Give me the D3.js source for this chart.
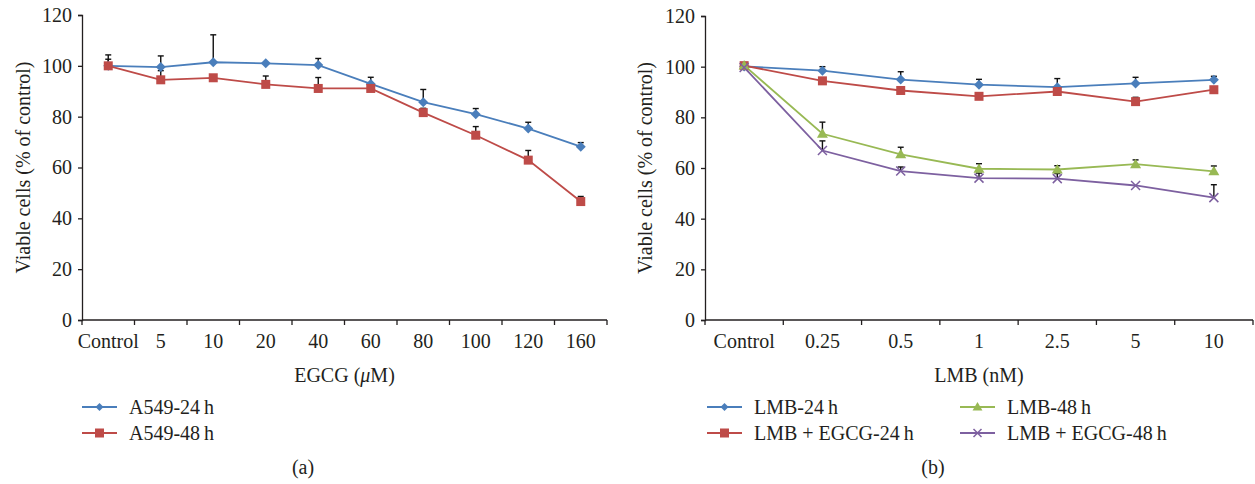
<!DOCTYPE html>
<html><head><meta charset="utf-8">
<script src="https://cdn.jsdelivr.net/npm/d3@7"></script>
<style>
body{margin:0;background:#fff;}
svg text{font-family:"Liberation Serif","Times New Roman",serif;fill:#231f20;}
</style></head>
<body><svg id="c" width="1255" height="484"></svg>
<script>
// ---- data ----
const leftCategories = ["Control","5","10","20","40","60","80","100","120","160"];
const a549_24 = [100, 99.5, 101.4, 101, 100.3, 92.9, 85.7, 81, 75.3, 68.2];
const a549_24_err = [4.3, 4.4, 10.8, 0.4, 2.6, 2.6, 5.0, 2.2, 2.5, 1.6];
const a549_48 = [100, 94.5, 95.3, 92.7, 91.1, 91.1, 81.6, 72.7, 62.9, 46.6];
const a549_48_err = [2.6, 3.6, 0.4, 3.3, 4.3, 1.0, 1.7, 3.4, 3.8, 2.0];

const rightCategories = ["Control","0.25","0.5","1","2.5","5","10"];
const lmb24 = [100.1, 98.4, 94.9, 92.9, 91.9, 93.4, 94.8];
const lmb24_err = [0.5, 1.6, 3.1, 2.1, 3.4, 2.4, 1.4];
const lmbEgcg24 = [100.4, 94.4, 90.6, 88.3, 90.2, 86.2, 90.9];
const lmbEgcg24_err = [0.5, 0.5, 0.5, 1.0, 1.0, 1.7, 1.0];
const lmb48 = [100.5, 73.5, 65.4, 59.7, 59.4, 61.5, 58.7];
const lmb48_err = [0.5, 4.6, 2.8, 2.0, 1.5, 1.7, 2.1];
const lmbEgcg48 = [99.7, 66.9, 58.8, 56.0, 55.8, 53.1, 48.3];
const lmbEgcg48_err = [0.5, 3.8, 1.6, 2.0, 2.0, 0.5, 5.1];

const yTicks = [0, 20, 40, 60, 80, 100, 120];

const C = {blue:"#4a7ebb", red:"#be4b48", green:"#98b954", purple:"#7d60a0"};

const svg = d3.select("#c");
const FS = 20;

function marker(g, type, color, x, y, s) {
  if (type === "diamond") {
    g.append("path").attr("d", `M${x},${y-s}L${x+s},${y}L${x},${y+s}L${x-s},${y}Z`).attr("fill", color);
  } else if (type === "square") {
    g.append("rect").attr("x", x-s).attr("y", y-s).attr("width", 2*s).attr("height", 2*s).attr("fill", color);
  } else if (type === "triangle") {
    g.append("path").attr("d", `M${x},${y-s*1.1}L${x+s*1.1},${y+s*0.8}L${x-s*1.1},${y+s*0.8}Z`).attr("fill", color);
  } else if (type === "x") {
    g.append("path").attr("d", `M${x-s},${y-s}L${x+s},${y+s}M${x-s},${y+s}L${x+s},${y-s}`).attr("stroke", color).attr("stroke-width", 1.5).attr("fill","none");
  }
}

function panel(opts) {
  const {x0, x1, yTop, yBot, cats, series, xTitle, yTitleX, label, labelX} = opts;
  const g = svg.append("g");
  const x = d3.scaleBand().domain(cats).range([x0, x1]);
  const y = d3.scaleLinear().domain([0, 120]).range([yBot, yTop]);

  // y axis
  const ya = d3.axisLeft(y).tickValues(yTicks).tickSize(4).tickPadding(6);
  const yg = g.append("g").attr("transform", `translate(${x0},0)`).call(ya);
  yg.select(".domain").attr("stroke", "#231f20").attr("stroke-width", 1.3);
  yg.selectAll(".tick line").attr("stroke", "#231f20").attr("stroke-width", 1.3);
  yg.selectAll("text").attr("font-size", FS).attr("fill", "#231f20").attr("font-family", "Liberation Serif");

  // x axis
  const xa = d3.axisBottom(x).tickSize(0).tickPadding(14);
  const xg = g.append("g").attr("transform", `translate(0,${yBot})`).call(xa);
  xg.select(".domain").attr("stroke", "#231f20").attr("stroke-width", 1.3).attr("d", `M${x0},0H${x1}`);
  xg.selectAll("text").attr("font-size", FS).attr("fill", "#231f20").attr("font-family", "Liberation Serif");
  // band boundary ticks
  const bounds = cats.map(c => x(c)).concat([x1]);
  g.selectAll(null).data(bounds).enter().append("line")
    .attr("x1", d => d).attr("x2", d => d).attr("y1", yBot).attr("y2", yBot + 5)
    .attr("stroke", "#231f20").attr("stroke-width", 1.3);

  const cx = c => x(c) + x.bandwidth()/2;

  // lines
  series.forEach(s => {
    const line = d3.line().x((d,i) => cx(cats[i])).y(d => y(d));
    g.append("path").attr("d", line(s.values)).attr("fill","none").attr("stroke", s.color).attr("stroke-width", 1.8);
  });
  // error bars
  series.forEach(s => {
    s.values.forEach((v,i) => {
      const e = s.err[i];
      if (e <= 0.6) return;
      const px = cx(cats[i]);
      g.append("line").attr("x1",px).attr("x2",px).attr("y1",y(v)).attr("y2",y(v+e)).attr("stroke","#111").attr("stroke-width",1.4);
      g.append("line").attr("x1",px-3).attr("x2",px+3).attr("y1",y(v+e)).attr("y2",y(v+e)).attr("stroke","#111").attr("stroke-width",1.4);
    });
  });
  // markers
  series.forEach(s => {
    s.values.forEach((v,i) => marker(g, s.marker, s.color, cx(cats[i]), y(v), s.size));
  });

  // y title
  g.append("text").attr("transform", `translate(${yTitleX},${(yTop+yBot)/2}) rotate(-90)`)
    .attr("text-anchor","middle").attr("dominant-baseline","central").attr("font-size", FS).text("Viable cells (% of control)");
  // x title
  const xt = g.append("text").attr("x", (x0+x1)/2).attr("y", 382).attr("text-anchor","middle").attr("font-size", FS);
  xTitle(xt);

  // legend
  opts.legend.forEach(L => {
    g.append("line").attr("x1", L.x).attr("x2", L.x+35).attr("y1", L.y).attr("y2", L.y).attr("stroke", L.s.color).attr("stroke-width", 1.8);
    marker(g, L.s.marker, L.s.color, L.x+17.5, L.y, L.s.lsize);
    g.append("text").attr("x", L.x+47).attr("y", L.y).attr("dominant-baseline","central").attr("font-size", FS).text(L.s.name);
  });

  g.append("text").attr("x", labelX).attr("y", 467).attr("text-anchor","middle").attr("dominant-baseline","central").attr("font-size", FS).text(label);
}

const sA24 = {name:"A549-24\u2009h", values:a549_24, err:a549_24_err, color:C.blue, marker:"diamond", size:5, lsize:4};
const sA48 = {name:"A549-48\u2009h", values:a549_48, err:a549_48_err, color:C.red, marker:"square", size:4.5, lsize:4.5};
panel({x0:82, x1:607, yTop:15, yBot:320, cats:leftCategories, series:[sA24, sA48],
  xTitle: t => { t.append("tspan").text("EGCG ("); t.append("tspan").attr("font-style","italic").text("\u03bc"); t.append("tspan").text("M)"); },
  yTitleX: 23, label:"(a)", labelX:303,
  legend:[{s:sA24, x:82, y:407}, {s:sA48, x:82, y:433}]});

const sL24 = {name:"LMB-24\u2009h", values:lmb24, err:lmb24_err, color:C.blue, marker:"diamond", size:5, lsize:4};
const sLE24 = {name:"LMB + EGCG-24\u2009h", values:lmbEgcg24, err:lmbEgcg24_err, color:C.red, marker:"square", size:4.5, lsize:4.5};
const sL48 = {name:"LMB-48\u2009h", values:lmb48, err:lmb48_err, color:C.green, marker:"triangle", size:5, lsize:4.5};
const sLE48 = {name:"LMB + EGCG-48\u2009h", values:lmbEgcg48, err:lmbEgcg48_err, color:C.purple, marker:"x", size:4.5, lsize:4};
panel({x0:705, x1:1253, yTop:16, yBot:320, cats:rightCategories, series:[sL24, sLE24, sL48, sLE48],
  xTitle: t => t.text("LMB (nM)"),
  yTitleX: 645, label:"(b)", labelX:933,
  legend:[{s:sL24, x:707, y:407}, {s:sLE24, x:707, y:433}, {s:sL48, x:960, y:407}, {s:sLE48, x:960, y:433}]});
</script>
</body></html>
